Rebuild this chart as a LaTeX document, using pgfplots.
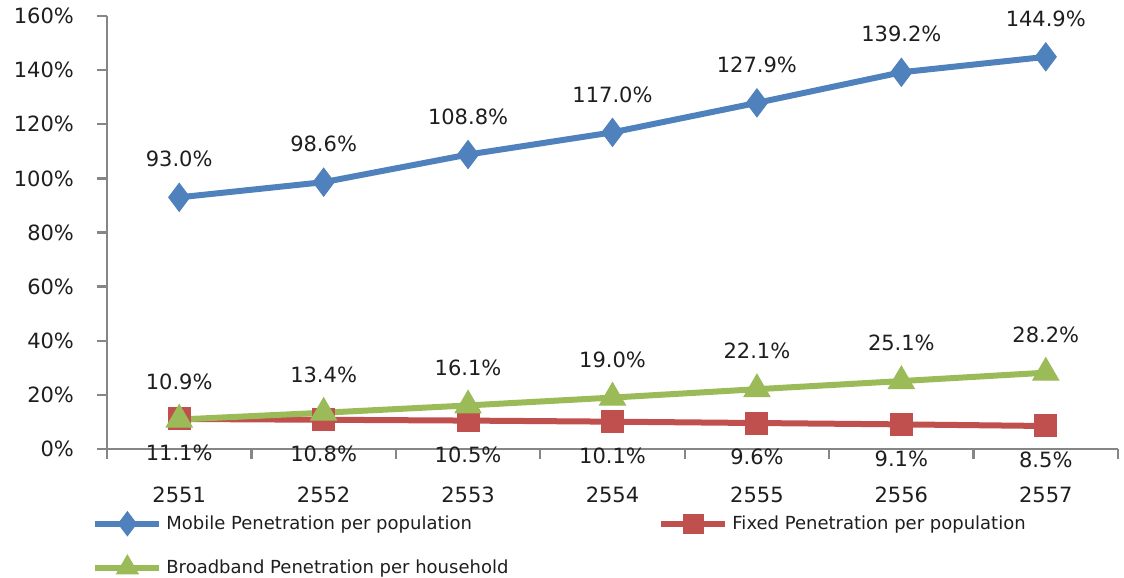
\documentclass[border=0pt]{standalone}
\usepackage{fontspec}
\setmainfont{DejaVu Sans}
\usepackage{pgfplots}
\pgfplotsset{compat=1.18}

\definecolor{mobblue}{RGB}{79,129,189}
\definecolor{fixred}{RGB}{192,80,77}
\definecolor{bbgreen}{RGB}{155,187,89}
\definecolor{axgray}{RGB}{134,134,134}
\definecolor{txt}{RGB}{30,30,30}

% legend sample with a smaller mark
\pgfplotsset{
  legmark/.style={legend image code/.code={\draw[mark repeat=2,mark phase=2,mark size=#1]
    plot coordinates {(0pt,0pt)(16pt,0pt)(32pt,0pt)};}},
}

\begin{document}
\begin{tikzpicture}
\begin{axis}[
  scale only axis,
  width=505.5pt, height=216.5pt,
  /pgf/number format/assume math mode=true,
  font=\fontsize{10.5}{12}\selectfont,
  axis lines=left,
  axis line style={axgray, line width=1.2pt, -},
  xmin=-0.5, xmax=6.5,
  ymin=0, ymax=160,
  ytick={0,20,...,160},
  yticklabel={\pgfmathprintnumber{\tick}\%},
  yticklabel style={txt, xshift=-8pt},
  xtick={-0.5,0.5,...,6.5},
  xticklabels={2551,2552,2553,2554,2555,2556,2557},
  x tick label as interval,
  xticklabel style={txt, yshift=-10.5pt},
  tick align=outside,
  major tick length=5pt,
  tick style={axgray, line width=1.2pt},
  clip=false,
  every node near coord/.append style={txt, font=\fontsize{10.5}{12}\selectfont, anchor=center},
  legend columns=2,
  legend cell align=left,
  legend style={at={(0,0)}, anchor=north west, xshift=-10.5pt, yshift=-29pt,
    draw=none, fill=none, font=\fontsize{9}{11}\selectfont, text=txt,
    row sep=9.5pt, /tikz/column 2/.style={column sep=73pt}},
]
\coordinate (bl) at (rel axis cs:0,0);
\coordinate (tr) at (rel axis cs:1,1);

\addplot[mobblue, line width=3pt, mark=diamond*, mark size=7pt,
  mark options={solid, line width=0.5pt}, legmark=6pt,
  nodes near coords={\pgfmathprintnumber[fixed,fixed zerofill,precision=1]{\pgfplotspointmeta}\%},
  every node near coord/.append style={yshift=19pt}]
  coordinates {(0,93.0)(1,98.6)(2,108.8)(3,117.0)(4,127.9)(5,139.2)(6,144.9)};
\addlegendentry{Mobile Penetration per population}

\addplot[fixred, line width=3pt, mark=square*, mark size=5.5pt,
  mark options={solid, line width=0.5pt}, legmark=4.8pt,
  nodes near coords={\pgfmathprintnumber[fixed,fixed zerofill,precision=1]{\pgfplotspointmeta}\%},
  every node near coord/.append style={yshift=-17pt}]
  coordinates {(0,11.1)(1,10.8)(2,10.5)(3,10.1)(4,9.6)(5,9.1)(6,8.5)};
\addlegendentry{Fixed Penetration per population}

\addplot[bbgreen, line width=3pt, mark=triangle*, mark size=7.5pt,
  mark options={solid, line width=0.5pt}, legmark=6.3pt,
  nodes near coords={\pgfmathprintnumber[fixed,fixed zerofill,precision=1]{\pgfplotspointmeta}\%},
  every node near coord/.append style={yshift=19pt}]
  coordinates {(0,10.9)(1,13.4)(2,16.1)(3,19.0)(4,22.1)(5,25.1)(6,28.2)};
\addlegendentry{Broadband Penetration per household}
\end{axis}
\pgfresetboundingbox
\path ([shift={(-53.5pt,-64.5pt)}]bl) rectangle ([shift={(3pt,8pt)}]tr);
\end{tikzpicture}
\end{document}
